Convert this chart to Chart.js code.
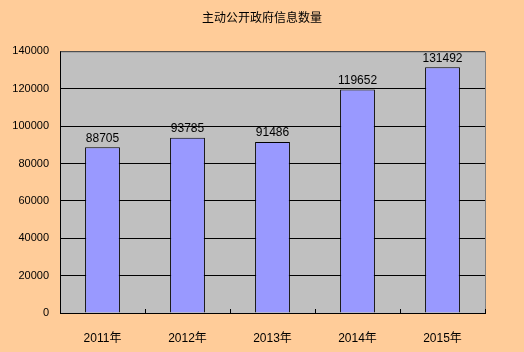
<!DOCTYPE html>
<html>
<head>
<meta charset="utf-8">
<script src="https://cdn.jsdelivr.net/npm/chart.js@4"></script>
<style>
  html, body { margin: 0; padding: 0; background: #FFCC99; }
  #wrap { width: 524px; height: 352px; }
</style>
</head>
<body>
<div id="wrap"><canvas id="c" width="524" height="352"></canvas></div>
<script>
// chart data
const years = ['2011年', '2012年', '2013年', '2014年', '2015年'];
const counts = [88705, 93785, 91486, 119652, 131492];
const yTicks = [0, 20000, 40000, 60000, 80000, 100000, 120000, 140000];
const chartTitle = '主动公开政府信息数量';

const FONT = "'Liberation Sans', 'Noto Sans CJK SC', sans-serif";

// grey plot background + borders + inner ticks on the category axis
const plotArea = {
  id: 'plotArea',
  beforeDraw(chart) {
    const { ctx, chartArea: a } = chart;
    ctx.save();
    ctx.fillStyle = '#C0C0C0';
    ctx.fillRect(a.left, a.top, a.right - a.left, a.bottom - a.top);
    ctx.restore();
  },
  afterDatasetsDraw(chart) {
    const { ctx, chartArea: a, scales } = chart;
    ctx.save();
    ctx.lineWidth = 1;
    ctx.strokeStyle = '#808080';
    ctx.beginPath();
    ctx.moveTo(a.left, a.top + 0.5); ctx.lineTo(a.right + 0.5, a.top + 0.5);
    ctx.lineTo(a.right + 0.5, a.bottom);
    ctx.stroke();
    ctx.strokeStyle = '#000';
    ctx.beginPath();
    ctx.moveTo(a.left + 0.5, a.top); ctx.lineTo(a.left + 0.5, a.bottom + 0.5);
    ctx.lineTo(a.right + 1, a.bottom + 0.5);
    ctx.stroke();
    // little ticks between categories, pointing up
    const x = scales.x;
    const half = (x.getPixelForValue(1) - x.getPixelForValue(0)) / 2;
    ctx.beginPath();
    for (let i = 0; i <= years.length; i++) {
      const px = Math.round(x.getPixelForValue(i) - half) + 0.5;
      ctx.moveTo(px, a.bottom);
      ctx.lineTo(px, a.bottom - 4);
    }
    ctx.stroke();
    ctx.restore();
  }
};

// value labels on top of the bars
const barLabels = {
  id: 'barLabels',
  afterDatasetsDraw(chart) {
    const { ctx } = chart;
    const meta = chart.getDatasetMeta(0);
    ctx.save();
    ctx.font = '12px ' + FONT;
    ctx.fillStyle = '#000';
    ctx.textAlign = 'center';
    ctx.textBaseline = 'bottom';
    meta.data.forEach((bar, i) => {
      ctx.fillText(String(counts[i]), bar.x, bar.y - 3);
    });
    ctx.restore();
  }
};

new Chart(document.getElementById('c'), {
  type: 'bar',
  data: {
    labels: years,
    datasets: [{
      data: counts,
      backgroundColor: '#9999FF',
      borderColor: '#000',
      borderWidth: 1,
      borderSkipped: 'bottom',
      categoryPercentage: 1,
      barPercentage: 0.41
    }]
  },
  options: {
    responsive: false,
    animation: false,
    devicePixelRatio: 1,
    layout: { padding: 0 },
    plugins: {
      legend: { display: false },
      tooltip: { enabled: false },
      title: {
        display: true,
        text: chartTitle,
        color: '#000',
        font: { family: FONT, size: 12, weight: 'normal' },
        padding: { top: 11, bottom: 26 }
      }
    },
    scales: {
      x: {
        grid: { display: false },
        border: { display: false },
        ticks: { color: '#000', font: { family: FONT, size: 12 }, padding: 10 },
        afterFit(s) { s.height = 39; }
      },
      y: {
        min: 0,
        max: 140000,
        afterBuildTicks(s) { s.ticks = yTicks.map(v => ({ value: v })); },
        grid: { color: '#000', drawTicks: false },
        border: { display: false },
        ticks: {
          color: '#000', font: { family: FONT, size: 11 }, padding: 11,
          callback: v => String(v)
        },
        afterFit(s) { s.width = 60; }
      },
      // empty right margin
      yRight: {
        position: 'right',
        min: 0,
        max: 1,
        grid: { display: false, drawTicks: false },
        border: { display: false },
        ticks: { display: false },
        afterFit(s) { s.width = 39; }
      }
    }
  },
  plugins: [plotArea, barLabels]
});
</script>
</body>
</html>
